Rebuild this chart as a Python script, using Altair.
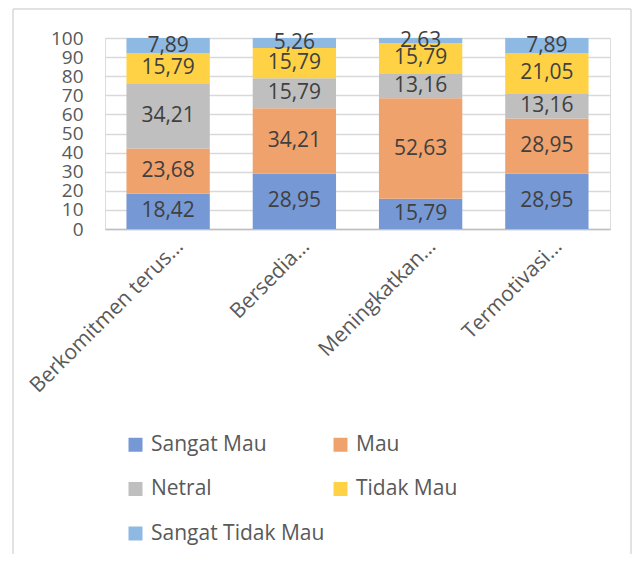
import altair as alt
import pandas as pd

categories = ["Berkomitmen  terus…", "Bersedia…", "Meningkatkan…", "Termotivasi…"]
series = ["Sangat Mau", "Mau", "Netral", "Tidak Mau", "Sangat Tidak Mau"]
sangat_mau = [18.42, 28.95, 15.79, 28.95]
mau = [23.68, 34.21, 52.63, 28.95]
netral = [34.21, 15.79, 13.16, 13.16]
tidak_mau = [15.79, 15.79, 15.79, 21.05]
sangat_tidak_mau = [7.89, 5.26, 2.63, 7.89]
colors = ["#7698D4", "#F0A26C", "#BFBFBF", "#FFD246", "#8EB9E3"]
y_ticks = [0, 10, 20, 30, 40, 50, 60, 70, 80, 90, 100]

# legend is filled column by column, so order entries to read row by row
legend_order = ["Sangat Mau", "Netral", "Sangat Tidak Mau", "Mau", "Tidak Mau"]
legend_colors = [colors[series.index(s)] for s in legend_order]

rows = []
for s_i, (s, vals) in enumerate(zip(series, [sangat_mau, mau, netral, tidak_mau, sangat_tidak_mau])):
    for c, v in zip(categories, vals):
        rows.append({"cat": c, "series": s, "order": s_i, "value": v})
df = pd.DataFrame(rows)

FONT = "Open Sans"

base = alt.Chart(df).transform_stack(
    stack="value", groupby=["cat"], as_=["y0", "y1"], sort=[alt.SortField("order", order="ascending")]
).transform_calculate(
    mid="(datum.y0 + datum.y1) / 2",
    label="replace(format(datum.value, '.2f'), '.', ',')",
)

xaxis = alt.Axis(labelAngle=-45, labelAlign="right", labelBaseline="middle", ticks=False,
                 domainColor="#BFBFBF", domainWidth=1.5, labelFont=FONT, labelFontSize=21,
                 labelColor="#595959", labelPadding=14, labelOffset=12, labelLimit=400,
                 labelOverlap=False)
xscale = alt.Scale(paddingInner=0.34, paddingOuter=0.17)
yaxis = alt.Axis(values=y_ticks, tickCount=11, ticks=False, domain=False, gridColor="#D9D9D9",
                 gridWidth=1.5, labelFont=FONT, labelFontSize=19, labelColor="#595959",
                 labelPadding=22, labelOverlap=False)
yscale = alt.Scale(domain=[0, 100], nice=False)

bars = base.mark_bar(stroke=None).encode(
    x=alt.X("cat:N", sort=categories, title=None, scale=xscale, axis=xaxis),
    y=alt.Y("y0:Q", title=None, scale=yscale, axis=yaxis),
    y2="y1:Q",
    color=alt.Color("series:N", scale=alt.Scale(domain=legend_order, range=legend_colors),
                    legend=alt.Legend(title=None, orient="none", legendX=20, legendY=396,
                                      columns=2, symbolType="square", symbolSize=196,
                                      symbolStrokeWidth=0, labelFont=FONT, labelFontSize=21,
                                      labelColor="#595959", rowPadding=22.5, columnPadding=5,
                                      labelOffset=5, labelLimit=400)),
)

text = base.mark_text(font=FONT, fontSize=21, color="#404040", baseline="middle").encode(
    x=alt.X("cat:N", sort=categories, title=None, scale=xscale, axis=xaxis),
    y=alt.Y("mid:Q", title=None, scale=yscale, axis=yaxis),
    text="label:N",
)

one = pd.DataFrame({"k": [0]})
rule_style = dict(color="#D9D9D9", strokeWidth=1.5, clip=False)
frame_left = alt.Chart(one).mark_rule(**rule_style).encode(
    x=alt.value(-92), y=alt.value(-29), y2=alt.value(520))
frame_right = alt.Chart(one).mark_rule(**rule_style).encode(
    x=alt.value(526), y=alt.value(-29), y2=alt.value(520))
frame_top = alt.Chart(one).mark_rule(**rule_style).encode(
    x=alt.value(-92), x2=alt.value(526), y=alt.value(-29))

chart = alt.layer(bars, text, frame_left, frame_right, frame_top).properties(
    width=505, height=191,
    autosize=alt.AutoSizeParams(type="none"),
    padding={"left": 97, "top": 30, "right": 23, "bottom": 325},
).configure_view(stroke=None).configure(background="white")

chart.save("out.html", embed_options={"renderer": "svg", "actions": False})
